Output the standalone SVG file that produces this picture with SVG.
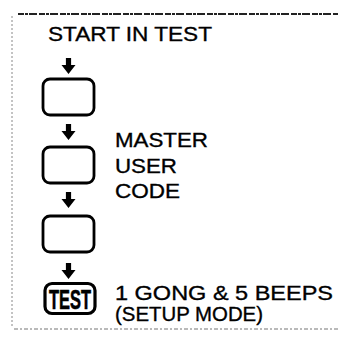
<svg xmlns="http://www.w3.org/2000/svg" width="338" height="341" viewBox="0 0 338 341">
<style>
.box{fill:#fff;stroke:#000;stroke-width:2.8}
.lbl{font-family:"Liberation Sans",Arial,sans-serif;font-size:20.5px;fill:#000;stroke:#000;stroke-width:0.35}
.arr{fill:#000}
</style>
<defs>
<polygon id="arrow" points="-2.6,0 2.6,0 2.6,7 7,7 0,16 -7,7 -2.6,7"/>
</defs>
<rect width="338" height="341" fill="#fff"/>
<g id="frame">
<line x1="18" y1="14" x2="338" y2="14" stroke="#222" stroke-width="1.8" stroke-dasharray="6 1 3 1 8 2"/>
<line x1="12" y1="16" x2="12" y2="328" stroke="#888" stroke-width="1" stroke-dasharray="2 2"/>
<line x1="14" y1="329" x2="338" y2="329" stroke="#777" stroke-width="1.2" stroke-dasharray="4 2 2 2"/>
</g>
<g id="title"><text class="lbl" x="48" y="40.5" textLength="164" lengthAdjust="spacingAndGlyphs">START IN TEST</text></g>
<g id="connectors">
<use href="#arrow" class="arr" x="68.5" y="58"/>
<use href="#arrow" class="arr" x="68.5" y="124"/>
<use href="#arrow" class="arr" x="68.5" y="192"/>
<use href="#arrow" class="arr" x="68.5" y="263"/>
</g>
<g id="key1"><rect class="box" x="43" y="79" width="51" height="36" rx="7"/></g>
<g id="key2"><rect class="box" x="43" y="147" width="51" height="36" rx="7"/></g>
<g id="key3"><rect class="box" x="43" y="216" width="51" height="36" rx="7"/></g>
<g id="label-code">
<text class="lbl" x="115" y="147" textLength="93" lengthAdjust="spacingAndGlyphs">MASTER</text>
<text class="lbl" x="115" y="172.5" textLength="62" lengthAdjust="spacingAndGlyphs">USER</text>
<text class="lbl" x="115" y="198" textLength="65" lengthAdjust="spacingAndGlyphs">CODE</text>
</g>
<g id="key-test">
<rect x="45" y="283.5" width="50" height="30" rx="7" fill="#fff" stroke="#000" stroke-width="3.2"/>
<text x="70" y="309" text-anchor="middle" font-family="'Liberation Sans',Arial,sans-serif" font-weight="bold" font-size="27" stroke="#000" stroke-width="0.6" textLength="42" lengthAdjust="spacingAndGlyphs">TEST</text>
</g>
<g id="label-setup">
<text class="lbl" x="115" y="300" textLength="218" lengthAdjust="spacingAndGlyphs">1 GONG &amp; 5 BEEPS</text>
<text class="lbl" x="115" y="321" textLength="148" lengthAdjust="spacingAndGlyphs">(SETUP MODE)</text>
</g>
</svg>
